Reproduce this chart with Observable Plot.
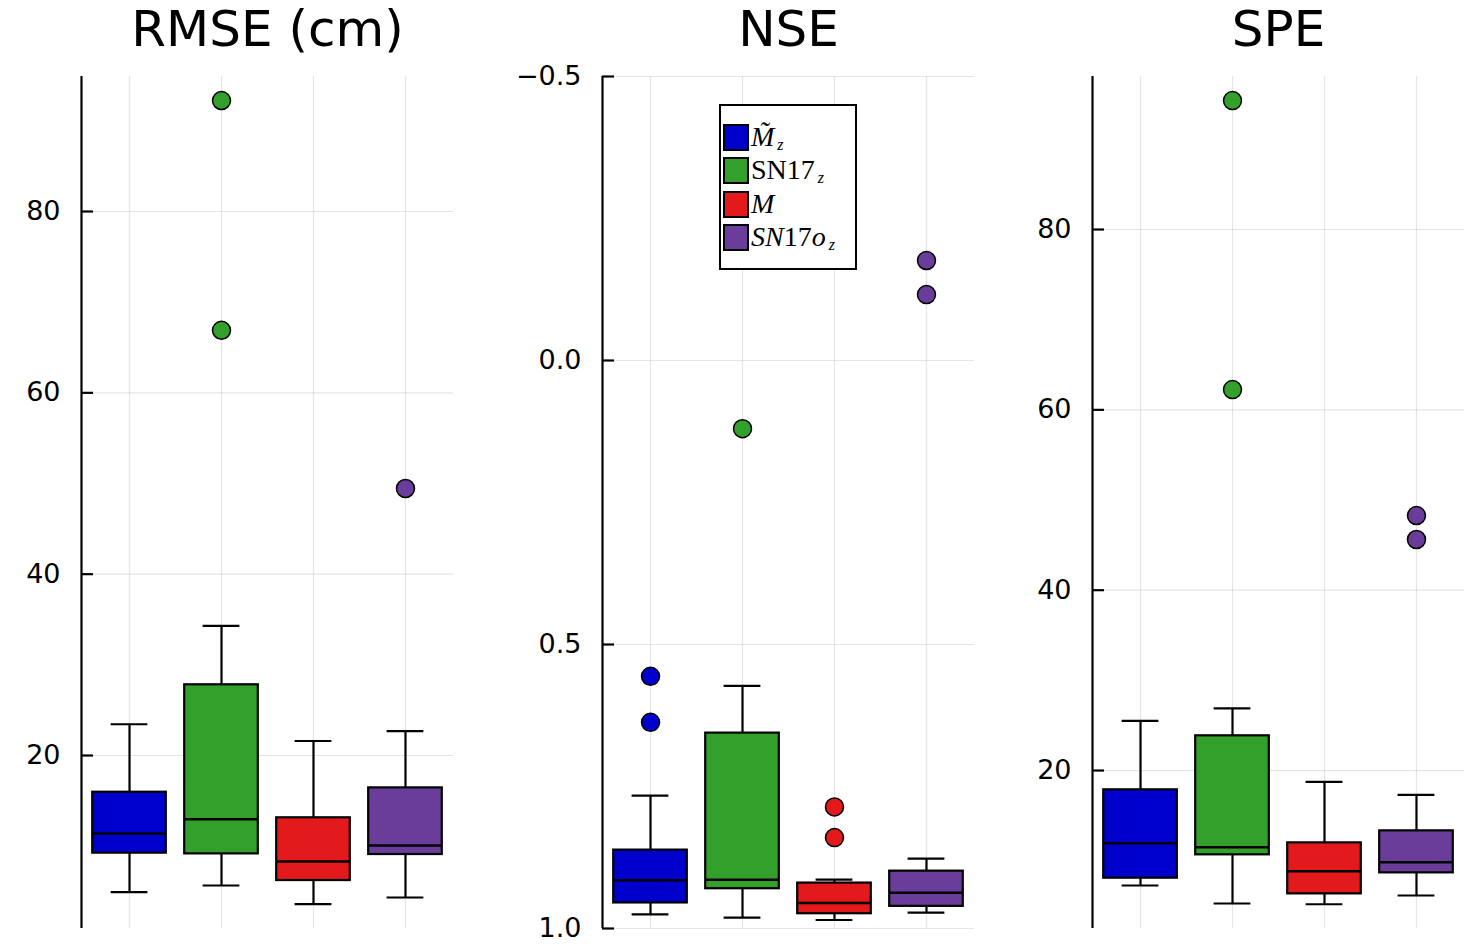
<!DOCTYPE html>
<html><head><meta charset="utf-8">
<script src="https://cdn.jsdelivr.net/npm/d3@7"></script>
<script src="https://cdn.jsdelivr.net/npm/@observablehq/plot@0.6"></script>
<style>
body{margin:0;background:#fff;}
#wrap{position:relative;width:1475px;height:947px;overflow:hidden;background:#fff;}
.panel{position:absolute;top:0;}
#legend{position:absolute;left:719px;top:104px;width:134px;height:162px;border:2px solid #000;background:#fff;font-family:"Liberation Serif",serif;font-size:28px;color:#000;}
.item{position:absolute;left:2px;height:30px;display:flex;align-items:center;white-space:nowrap;line-height:26px;}
.sw{box-sizing:border-box;width:26px;height:27px;border:2px solid #000;margin-right:2px;flex:none;}
.lab sub{font-size:16px;vertical-align:-4px;line-height:0;margin-left:3px;}
</style></head><body><div id="wrap"><div id="legend"></div></div>
<script>
// ---- categories ----
const groups = ["Mz_tilde", "SN17z", "M", "SN17oz"];
const groupX = [1, 2, 3, 4];
const colors = ["#0000CD", "#33A02C", "#E31A1C", "#6A3D9A"];
const legendLabels = [
  "<i>M\u0303</i><sub><i>z</i></sub>",
  "SN17<sub><i>z</i></sub>",
  "<i>M</i>",
  "<i>SN</i>17<i>o</i><sub><i>z</i></sub>"
];
const titles = ["RMSE (cm)", "NSE", "SPE"];

// ---- RMSE (cm) ----
const rmseLow  = [4.93, 5.66, 3.60, 4.34];
const rmseQ1   = [9.23, 9.15, 6.21, 9.08];
const rmseMed  = [11.40, 12.98, 8.31, 10.07];
const rmseQ3   = [15.95, 27.80, 13.13, 16.43];
const rmseHigh = [23.45, 34.30, 21.60, 22.68];
const rmseOutGroup = [2, 2, 4];
const rmseOutValue = [92.24, 66.90, 49.45];
const rmseTicks = [20, 40, 60, 80];
const rmseDomain = [0.92, 94.89];

// ---- NSE ----
const nseLow  = [0.766, 0.573, 0.914, 0.877];
const nseQ1   = [0.862, 0.656, 0.920, 0.899];
const nseMed  = [0.915, 0.914, 0.955, 0.937];
const nseQ3   = [0.955, 0.930, 0.974, 0.961];
const nseHigh = [0.975, 0.981, 0.985, 0.972];
const nseOutGroup = [1, 1, 2, 3, 3, 4, 4];
const nseOutValue = [0.556, 0.637, 0.120, 0.786, 0.840, -0.176, -0.116];
const nseTicks = [-0.5, 0.0, 0.5, 1.0];
const nseDomain = [-0.5, 1.0];

// ---- SPE ----
const speLow  = [7.25, 5.25, 5.17, 6.14];
const speQ1   = [8.06, 10.65, 6.32, 8.65];
const speMed  = [11.94, 11.50, 8.83, 9.83];
const speQ3   = [17.86, 23.85, 11.98, 13.31];
const speHigh = [25.51, 26.90, 18.75, 17.30];
const speOutGroup = [2, 2, 4, 4];
const speOutValue = [94.30, 62.25, 48.28, 45.62];
const speTicks = [20, 40, 60, 80];
const speDomain = [2.48, 96.97];

const xDomain = [0.478, 4.522];
const boxHalf = 0.4, capHalf = 0.2;

function panel(o) {
  const rows = groups.map((g, i) => ({g, x: groupX[i], low: o.low[i], q1: o.q1[i], med: o.med[i], q3: o.q3[i], high: o.high[i]}));
  const outs = o.outG.map((gx, i) => ({g: groups[gx - 1], x: gx, v: o.outV[i]}));
  const ink = {stroke: "#000", strokeWidth: 2.2};
  const chart = Plot.plot({
    width: o.width, height: 947,
    marginLeft: o.ml, marginRight: o.mr, marginTop: 76, marginBottom: 19,
    x: {domain: xDomain, axis: null},
    y: {domain: o.domain, reverse: !!o.reverse, axis: null},
    color: {domain: groups, range: colors},
    style: {fontFamily: "DejaVu Sans", background: "transparent", color: "#000", overflow: "visible"},
    marks: [
      Plot.gridY(o.ticks, {stroke: "#000", strokeOpacity: 0.1, strokeWidth: 1.2}),
      Plot.gridX(groupX, {stroke: "#000", strokeOpacity: 0.1, strokeWidth: 1.2}),
      Plot.ruleX(rows, {x: "x", y1: "low", y2: "q1", ...ink}),
      Plot.ruleX(rows, {x: "x", y1: "q3", y2: "high", ...ink}),
      Plot.ruleY(rows, {y: "low", x1: d => d.x - capHalf, x2: d => d.x + capHalf, ...ink}),
      Plot.ruleY(rows, {y: "high", x1: d => d.x - capHalf, x2: d => d.x + capHalf, ...ink}),
      Plot.rectY(rows, {x1: d => d.x - boxHalf, x2: d => d.x + boxHalf, y1: "q1", y2: "q3", fill: "g", ...ink}),
      Plot.ruleY(rows, {y: "med", x1: d => d.x - boxHalf, x2: d => d.x + boxHalf, stroke: "#000", strokeWidth: 2.5}),
      Plot.dot(outs, {x: "x", y: "v", r: 9, fill: "g", stroke: "#000", strokeWidth: 1.5}),
      Plot.axisY(o.ticks, {tickSize: 0, tickPadding: 21, fontSize: 27, tickFormat: o.fmt}),
      Plot.axisY(o.ticks, {tickSize: 12, dx: 12, strokeWidth: 2.2, tickFormat: () => ""}),
      Plot.ruleX([xDomain[0]], {stroke: "#000", strokeWidth: 2.2}),
      Plot.text([o.title], {frameAnchor: "top", dy: -47, text: d => d, fontSize: 50, lineAnchor: "middle", fill: "#000"})
    ]
  });
  chart.classList.add("panel");
  chart.style.left = o.left + "px";
  document.getElementById("wrap").appendChild(chart);
}

panel({title: titles[0], left: 0, width: 460, ml: 81, mr: 7, domain: rmseDomain, ticks: rmseTicks, fmt: d3.format("d"),
  low: rmseLow, q1: rmseQ1, med: rmseMed, q3: rmseQ3, high: rmseHigh, outG: rmseOutGroup, outV: rmseOutValue});
panel({title: titles[1], left: 480, width: 500, ml: 122, mr: 6, domain: nseDomain, reverse: true, ticks: nseTicks, fmt: d3.format(".1f"),
  low: nseLow, q1: nseQ1, med: nseMed, q3: nseQ3, high: nseHigh, outG: nseOutGroup, outV: nseOutValue});
panel({title: titles[2], left: 980, width: 495, ml: 112, mr: 11, domain: speDomain, ticks: speTicks, fmt: d3.format("d"),
  low: speLow, q1: speQ1, med: speMed, q3: speQ3, high: speHigh, outG: speOutGroup, outV: speOutValue});

// legend (on top)
const legend = document.getElementById("legend");
document.getElementById("wrap").appendChild(legend);
const itemTops = [16, 49, 83, 116];
groups.forEach((g, i) => {
  const it = document.createElement("div");
  it.className = "item";
  it.style.top = itemTops[i] + "px";
  it.innerHTML = `<div class="sw" style="background:${colors[i]}"></div><span class="lab">${legendLabels[i]}</span>`;
  legend.appendChild(it);
});
</script></body></html>
